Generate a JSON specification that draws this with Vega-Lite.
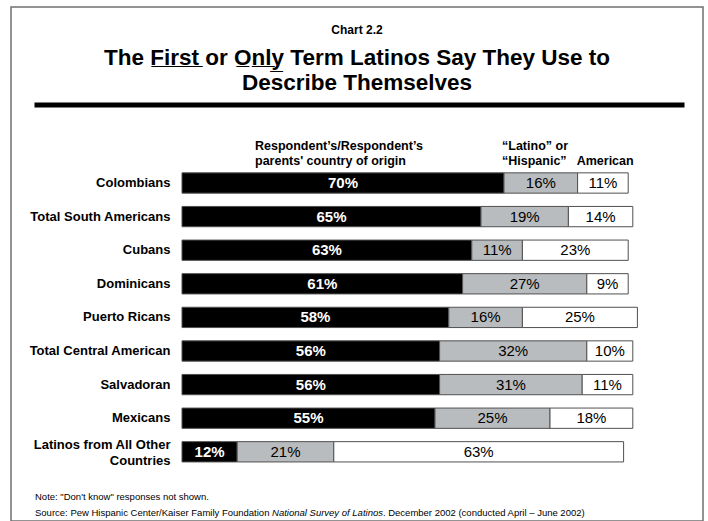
{
  "$schema": "https://vega.github.io/schema/vega-lite/v6.json",
  "width": 692,
  "height": 514,
  "autosize": {"type": "none"},
  "padding": {"left": 11, "top": 7, "right": 5, "bottom": 0},
  "background": "white",
  "config": {
    "view": {"stroke": "#707070", "strokeWidth": 1.5},
    "font": "Liberation Sans",
    "text": {"font": "Liberation Sans"}
  },
  "title": {
    "text": "Chart 2.2",
    "subtitle": ["The F\u0332i\u0332r\u0332s\u0332t\u0332 or O\u0332n\u0332l\u0332y\u0332 Term Latinos Say They Use to", "Describe Themselves"],
    "anchor": "middle",
    "orient": "top",
    "offset": -88,
    "font": "Liberation Sans",
    "fontSize": 12,
    "fontWeight": "bold",
    "color": "black",
    "subtitleFont": "Liberation Sans",
    "subtitleFontSize": 22.5,
    "subtitleFontWeight": "bold",
    "subtitleColor": "black",
    "subtitleLineHeight": 25,
    "subtitlePadding": 10
  },
  "data": {
    "values": [
      {"group": "Colombians", "response": "Country of origin", "k": 1, "share": 0.70},
      {"group": "Colombians", "response": "Latino or Hispanic", "k": 2, "share": 0.16},
      {"group": "Colombians", "response": "American", "k": 3, "share": 0.11},
      {"group": "Total South Americans", "response": "Country of origin", "k": 1, "share": 0.65},
      {"group": "Total South Americans", "response": "Latino or Hispanic", "k": 2, "share": 0.19},
      {"group": "Total South Americans", "response": "American", "k": 3, "share": 0.14},
      {"group": "Cubans", "response": "Country of origin", "k": 1, "share": 0.63},
      {"group": "Cubans", "response": "Latino or Hispanic", "k": 2, "share": 0.11},
      {"group": "Cubans", "response": "American", "k": 3, "share": 0.23},
      {"group": "Dominicans", "response": "Country of origin", "k": 1, "share": 0.61},
      {"group": "Dominicans", "response": "Latino or Hispanic", "k": 2, "share": 0.27},
      {"group": "Dominicans", "response": "American", "k": 3, "share": 0.09},
      {"group": "Puerto Ricans", "response": "Country of origin", "k": 1, "share": 0.58},
      {"group": "Puerto Ricans", "response": "Latino or Hispanic", "k": 2, "share": 0.16},
      {"group": "Puerto Ricans", "response": "American", "k": 3, "share": 0.25},
      {"group": "Total Central American", "response": "Country of origin", "k": 1, "share": 0.56},
      {"group": "Total Central American", "response": "Latino or Hispanic", "k": 2, "share": 0.32},
      {"group": "Total Central American", "response": "American", "k": 3, "share": 0.10},
      {"group": "Salvadoran", "response": "Country of origin", "k": 1, "share": 0.56},
      {"group": "Salvadoran", "response": "Latino or Hispanic", "k": 2, "share": 0.31},
      {"group": "Salvadoran", "response": "American", "k": 3, "share": 0.11},
      {"group": "Mexicans", "response": "Country of origin", "k": 1, "share": 0.55},
      {"group": "Mexicans", "response": "Latino or Hispanic", "k": 2, "share": 0.25},
      {"group": "Mexicans", "response": "American", "k": 3, "share": 0.18},
      {"group": "Latinos from All Other Countries", "response": "Country of origin", "k": 1, "share": 0.12},
      {"group": "Latinos from All Other Countries", "response": "Latino or Hispanic", "k": 2, "share": 0.21},
      {"group": "Latinos from All Other Countries", "response": "American", "k": 3, "share": 0.63}
    ]
  },
  "layer": [
    {
      "mark": {"type": "bar", "stroke": "#505050", "strokeWidth": 1},
      "encoding": {
        "x": {
          "field": "share", "type": "quantitative", "stack": "zero",
          "scale": {"domain": [-0.32174, 1.0913], "range": [23, 673], "nice": false, "zero": false},
          "axis": {"orient": "top", "offset": -97.5, "domain": true, "domainColor": "black", "domainWidth": 5, "domainCap": "butt", "labels": false, "ticks": false, "grid": false, "title": null}
        },
        "y": {
          "field": "group", "type": "nominal",
          "scale": {"domain": ["Colombians", "Total South Americans", "Cubans", "Dominicans", "Puerto Ricans", "Total Central American", "Salvadoran", "Mexicans", "Latinos from All Other Countries"], "range": [159.2, 461.6], "paddingInner": 0.396, "paddingOuter": 0.198},
          "axis": {"orient": "left", "offset": -165, "domain": false, "ticks": false, "grid": false, "title": null, "labelFont": "Liberation Sans", "labelFontSize": 13, "labelFontWeight": "bold", "labelColor": "black", "labelPadding": 6, "labelLimit": 0, "labelLineHeight": 16, "labelOffset": {"condition": {"test": "datum.value === 'Latinos from All Other Countries'", "value": -7}, "value": 0}, "labelExpr": "datum.value == 'Latinos from All Other Countries' ? ['Latinos from All Other', 'Countries'] : datum.value"}
        },
        "color": {"field": "response", "type": "nominal", "scale": {"domain": ["Country of origin", "Latino or Hispanic", "American"], "range": ["#000000", "#b9bcbe", "#ffffff"]}, "legend": null},
        "order": {"field": "k", "type": "quantitative"}
      }
    },
    {
      "mark": {"type": "text", "fontWeight": "bold", "fontSize": 15, "color": "white", "baseline": "middle", "align": "center"},
      "encoding": {
        "x": {"field": "share", "type": "quantitative", "stack": "zero", "bandPosition": 0.5, "scale": {"domain": [-0.32174, 1.0913], "range": [23, 673], "nice": false, "zero": false},
          "axis": {"orient": "top", "offset": -97.5, "domain": true, "domainColor": "black", "domainWidth": 5, "domainCap": "butt", "labels": false, "ticks": false, "grid": false, "title": null}},
        "y": {"field": "group", "type": "nominal", "scale": {"domain": ["Colombians", "Total South Americans", "Cubans", "Dominicans", "Puerto Ricans", "Total Central American", "Salvadoran", "Mexicans", "Latinos from All Other Countries"], "range": [159.2, 461.6], "paddingInner": 0.396, "paddingOuter": 0.198},
          "axis": {"orient": "left", "offset": -165, "domain": false, "ticks": false, "grid": false, "title": null, "labelFont": "Liberation Sans", "labelFontSize": 13, "labelFontWeight": "bold", "labelColor": "black", "labelPadding": 6, "labelLimit": 0, "labelLineHeight": 16, "labelOffset": {"condition": {"test": "datum.value === 'Latinos from All Other Countries'", "value": -7}, "value": 0}, "labelExpr": "datum.value == 'Latinos from All Other Countries' ? ['Latinos from All Other', 'Countries'] : datum.value"}},
        "detail": {"field": "response", "type": "nominal"},
        "order": {"field": "k", "type": "quantitative"},
        "text": {"condition": {"test": "datum.k === 1", "field": "share", "type": "quantitative", "format": ".0%"}, "value": ""}
      }
    },
    {
      "mark": {"type": "text", "fontWeight": "normal", "fontSize": 15, "color": "black", "baseline": "middle", "align": "center"},
      "encoding": {
        "x": {"field": "share", "type": "quantitative", "stack": "zero", "bandPosition": 0.5, "scale": {"domain": [-0.32174, 1.0913], "range": [23, 673], "nice": false, "zero": false},
          "axis": {"orient": "top", "offset": -97.5, "domain": true, "domainColor": "black", "domainWidth": 5, "domainCap": "butt", "labels": false, "ticks": false, "grid": false, "title": null}},
        "y": {"field": "group", "type": "nominal", "scale": {"domain": ["Colombians", "Total South Americans", "Cubans", "Dominicans", "Puerto Ricans", "Total Central American", "Salvadoran", "Mexicans", "Latinos from All Other Countries"], "range": [159.2, 461.6], "paddingInner": 0.396, "paddingOuter": 0.198},
          "axis": {"orient": "left", "offset": -165, "domain": false, "ticks": false, "grid": false, "title": null, "labelFont": "Liberation Sans", "labelFontSize": 13, "labelFontWeight": "bold", "labelColor": "black", "labelPadding": 6, "labelLimit": 0, "labelLineHeight": 16, "labelOffset": {"condition": {"test": "datum.value === 'Latinos from All Other Countries'", "value": -7}, "value": 0}, "labelExpr": "datum.value == 'Latinos from All Other Countries' ? ['Latinos from All Other', 'Countries'] : datum.value"}},
        "detail": {"field": "response", "type": "nominal"},
        "order": {"field": "k", "type": "quantitative"},
        "text": {"condition": {"test": "datum.k !== 1", "field": "share", "type": "quantitative", "format": ".0%"}, "value": ""}
      }
    },
    {
      "data": {"values": [{"header": "Country of origin"}]},
      "mark": {"type": "text", "align": "left", "baseline": "middle", "fontWeight": "bold", "fontSize": 12.5, "lineHeight": 15, "dy": -37, "color": "black", "text": ["Respondent\u2019s/Respondent\u2019s", "parents' country of origin"]},
      "encoding": {
        "x": {"datum": 0.1587, "type": "quantitative", "scale": {"domain": [-0.32174, 1.0913], "range": [23, 673], "nice": false, "zero": false},
          "axis": {"orient": "top", "offset": -97.5, "domain": true, "domainColor": "black", "domainWidth": 5, "domainCap": "butt", "labels": false, "ticks": false, "grid": false, "title": null}},
        "y": {"datum": "Colombians", "type": "nominal", "scale": {"domain": ["Colombians", "Total South Americans", "Cubans", "Dominicans", "Puerto Ricans", "Total Central American", "Salvadoran", "Mexicans", "Latinos from All Other Countries"], "range": [159.2, 461.6], "paddingInner": 0.396, "paddingOuter": 0.198},
          "axis": {"orient": "left", "offset": -165, "domain": false, "ticks": false, "grid": false, "title": null, "labelFont": "Liberation Sans", "labelFontSize": 13, "labelFontWeight": "bold", "labelColor": "black", "labelPadding": 6, "labelLimit": 0, "labelLineHeight": 16, "labelOffset": {"condition": {"test": "datum.value === 'Latinos from All Other Countries'", "value": -7}, "value": 0}, "labelExpr": "datum.value == 'Latinos from All Other Countries' ? ['Latinos from All Other', 'Countries'] : datum.value"}}
      }
    },
    {
      "data": {"values": [{"header": "Latino or Hispanic"}]},
      "mark": {"type": "text", "align": "left", "baseline": "middle", "fontWeight": "bold", "fontSize": 12.5, "lineHeight": 15, "dy": -37, "color": "black", "text": ["\u201cLatino\u201d or", "\u201cHispanic\u201d"]},
      "encoding": {
        "x": {"datum": 0.6957, "type": "quantitative", "scale": {"domain": [-0.32174, 1.0913], "range": [23, 673], "nice": false, "zero": false},
          "axis": {"orient": "top", "offset": -97.5, "domain": true, "domainColor": "black", "domainWidth": 5, "domainCap": "butt", "labels": false, "ticks": false, "grid": false, "title": null}},
        "y": {"datum": "Colombians", "type": "nominal", "scale": {"domain": ["Colombians", "Total South Americans", "Cubans", "Dominicans", "Puerto Ricans", "Total Central American", "Salvadoran", "Mexicans", "Latinos from All Other Countries"], "range": [159.2, 461.6], "paddingInner": 0.396, "paddingOuter": 0.198},
          "axis": {"orient": "left", "offset": -165, "domain": false, "ticks": false, "grid": false, "title": null, "labelFont": "Liberation Sans", "labelFontSize": 13, "labelFontWeight": "bold", "labelColor": "black", "labelPadding": 6, "labelLimit": 0, "labelLineHeight": 16, "labelOffset": {"condition": {"test": "datum.value === 'Latinos from All Other Countries'", "value": -7}, "value": 0}, "labelExpr": "datum.value == 'Latinos from All Other Countries' ? ['Latinos from All Other', 'Countries'] : datum.value"}}
      }
    },
    {
      "data": {"values": [{"header": "American"}]},
      "mark": {"type": "text", "align": "left", "baseline": "middle", "fontWeight": "bold", "fontSize": 12.5, "dy": -22, "color": "black"},
      "encoding": {
        "x": {"datum": 0.858, "type": "quantitative", "scale": {"domain": [-0.32174, 1.0913], "range": [23, 673], "nice": false, "zero": false},
          "axis": {"orient": "top", "offset": -97.5, "domain": true, "domainColor": "black", "domainWidth": 5, "domainCap": "butt", "labels": false, "ticks": false, "grid": false, "title": null}},
        "y": {"datum": "Colombians", "type": "nominal", "scale": {"domain": ["Colombians", "Total South Americans", "Cubans", "Dominicans", "Puerto Ricans", "Total Central American", "Salvadoran", "Mexicans", "Latinos from All Other Countries"], "range": [159.2, 461.6], "paddingInner": 0.396, "paddingOuter": 0.198},
          "axis": {"orient": "left", "offset": -165, "domain": false, "ticks": false, "grid": false, "title": null, "labelFont": "Liberation Sans", "labelFontSize": 13, "labelFontWeight": "bold", "labelColor": "black", "labelPadding": 6, "labelLimit": 0, "labelLineHeight": 16, "labelOffset": {"condition": {"test": "datum.value === 'Latinos from All Other Countries'", "value": -7}, "value": 0}, "labelExpr": "datum.value == 'Latinos from All Other Countries' ? ['Latinos from All Other', 'Countries'] : datum.value"}},
        "text": {"field": "header", "type": "nominal"}
      }
    },
    {
      "data": {"values": [{"note": "Note: \"Don't know\" responses not shown."}]},
      "mark": {"type": "text", "align": "left", "baseline": "middle", "fontSize": 9.5, "dy": 45, "color": "black"},
      "encoding": {
        "x": {"datum": -0.31957, "type": "quantitative", "scale": {"domain": [-0.32174, 1.0913], "range": [23, 673], "nice": false, "zero": false},
          "axis": {"orient": "top", "offset": -97.5, "domain": true, "domainColor": "black", "domainWidth": 5, "domainCap": "butt", "labels": false, "ticks": false, "grid": false, "title": null}},
        "y": {"datum": "Latinos from All Other Countries", "type": "nominal", "scale": {"domain": ["Colombians", "Total South Americans", "Cubans", "Dominicans", "Puerto Ricans", "Total Central American", "Salvadoran", "Mexicans", "Latinos from All Other Countries"], "range": [159.2, 461.6], "paddingInner": 0.396, "paddingOuter": 0.198},
          "axis": {"orient": "left", "offset": -165, "domain": false, "ticks": false, "grid": false, "title": null, "labelFont": "Liberation Sans", "labelFontSize": 13, "labelFontWeight": "bold", "labelColor": "black", "labelPadding": 6, "labelLimit": 0, "labelLineHeight": 16, "labelOffset": {"condition": {"test": "datum.value === 'Latinos from All Other Countries'", "value": -7}, "value": 0}, "labelExpr": "datum.value == 'Latinos from All Other Countries' ? ['Latinos from All Other', 'Countries'] : datum.value"}},
        "text": {"field": "note", "type": "nominal"}
      }
    },
    {
      "data": {"values": [{"note": "Source: Pew Hispanic Center/Kaiser Family Foundation"}]},
      "mark": {"type": "text", "align": "left", "baseline": "middle", "fontSize": 9.5, "dy": 61, "color": "black"},
      "encoding": {
        "x": {"datum": -0.31957, "type": "quantitative", "scale": {"domain": [-0.32174, 1.0913], "range": [23, 673], "nice": false, "zero": false},
          "axis": {"orient": "top", "offset": -97.5, "domain": true, "domainColor": "black", "domainWidth": 5, "domainCap": "butt", "labels": false, "ticks": false, "grid": false, "title": null}},
        "y": {"datum": "Latinos from All Other Countries", "type": "nominal", "scale": {"domain": ["Colombians", "Total South Americans", "Cubans", "Dominicans", "Puerto Ricans", "Total Central American", "Salvadoran", "Mexicans", "Latinos from All Other Countries"], "range": [159.2, 461.6], "paddingInner": 0.396, "paddingOuter": 0.198},
          "axis": {"orient": "left", "offset": -165, "domain": false, "ticks": false, "grid": false, "title": null, "labelFont": "Liberation Sans", "labelFontSize": 13, "labelFontWeight": "bold", "labelColor": "black", "labelPadding": 6, "labelLimit": 0, "labelLineHeight": 16, "labelOffset": {"condition": {"test": "datum.value === 'Latinos from All Other Countries'", "value": -7}, "value": 0}, "labelExpr": "datum.value == 'Latinos from All Other Countries' ? ['Latinos from All Other', 'Countries'] : datum.value"}},
        "text": {"field": "note", "type": "nominal"}
      }
    },
    {
      "data": {"values": [{"note": "National Survey of Latinos"}]},
      "mark": {"type": "text", "align": "left", "baseline": "middle", "fontSize": 9.5, "fontStyle": "italic", "dy": 61, "color": "black"},
      "encoding": {
        "x": {"datum": 0.19576, "type": "quantitative", "scale": {"domain": [-0.32174, 1.0913], "range": [23, 673], "nice": false, "zero": false},
          "axis": {"orient": "top", "offset": -97.5, "domain": true, "domainColor": "black", "domainWidth": 5, "domainCap": "butt", "labels": false, "ticks": false, "grid": false, "title": null}},
        "y": {"datum": "Latinos from All Other Countries", "type": "nominal", "scale": {"domain": ["Colombians", "Total South Americans", "Cubans", "Dominicans", "Puerto Ricans", "Total Central American", "Salvadoran", "Mexicans", "Latinos from All Other Countries"], "range": [159.2, 461.6], "paddingInner": 0.396, "paddingOuter": 0.198},
          "axis": {"orient": "left", "offset": -165, "domain": false, "ticks": false, "grid": false, "title": null, "labelFont": "Liberation Sans", "labelFontSize": 13, "labelFontWeight": "bold", "labelColor": "black", "labelPadding": 6, "labelLimit": 0, "labelLineHeight": 16, "labelOffset": {"condition": {"test": "datum.value === 'Latinos from All Other Countries'", "value": -7}, "value": 0}, "labelExpr": "datum.value == 'Latinos from All Other Countries' ? ['Latinos from All Other', 'Countries'] : datum.value"}},
        "text": {"field": "note", "type": "nominal"}
      }
    },
    {
      "data": {"values": [{"note": ". December 2002 (conducted April \u2013 June 2002)"}]},
      "mark": {"type": "text", "align": "left", "baseline": "middle", "fontSize": 9.5, "dy": 61, "color": "black"},
      "encoding": {
        "x": {"datum": 0.4368, "type": "quantitative", "scale": {"domain": [-0.32174, 1.0913], "range": [23, 673], "nice": false, "zero": false},
          "axis": {"orient": "top", "offset": -97.5, "domain": true, "domainColor": "black", "domainWidth": 5, "domainCap": "butt", "labels": false, "ticks": false, "grid": false, "title": null}},
        "y": {"datum": "Latinos from All Other Countries", "type": "nominal", "scale": {"domain": ["Colombians", "Total South Americans", "Cubans", "Dominicans", "Puerto Ricans", "Total Central American", "Salvadoran", "Mexicans", "Latinos from All Other Countries"], "range": [159.2, 461.6], "paddingInner": 0.396, "paddingOuter": 0.198},
          "axis": {"orient": "left", "offset": -165, "domain": false, "ticks": false, "grid": false, "title": null, "labelFont": "Liberation Sans", "labelFontSize": 13, "labelFontWeight": "bold", "labelColor": "black", "labelPadding": 6, "labelLimit": 0, "labelLineHeight": 16, "labelOffset": {"condition": {"test": "datum.value === 'Latinos from All Other Countries'", "value": -7}, "value": 0}, "labelExpr": "datum.value == 'Latinos from All Other Countries' ? ['Latinos from All Other', 'Countries'] : datum.value"}},
        "text": {"field": "note", "type": "nominal"}
      }
    }
  ]
}
